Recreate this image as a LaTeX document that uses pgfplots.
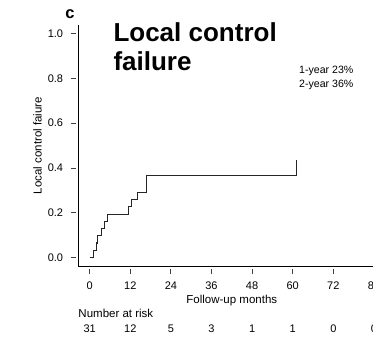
\documentclass[border=0pt]{standalone}
\usepackage{pgfplots}
\pgfplotsset{compat=1.18}
\usepackage{fontspec}
\setmainfont{Liberation Sans}
\newcommand{\fs}[1]{\fontsize{#1bp}{#1bp}\selectfont}
\begin{document}
\begin{tikzpicture}
\begin{axis}[
  at={(0,0)}, anchor=south west,
  scale only axis, width=307bp, height=241.8bp,
  xmin=-3.36, xmax=87.36, ymin=-0.04, ymax=1.04,
  axis lines*=left,
  axis line style={black, line width=1bp},
  clip=false,
  xtick={0,12,24,36,48,60,72,84},
  ytick={0,0.2,0.4,0.6,0.8,1.0},
  yticklabels={0.0,0.2,0.4,0.6,0.8,1.0},
  tick align=outside,
  major tick length=5bp,
  xtick style={black!75, line width=0.8bp, yshift=-2bp},
  ytick style={black!75, line width=0.8bp, xshift=-2bp},
  /pgf/number format/assume math mode=true,
  ticklabel style={font=\fs{11}, inner sep=0pt},
  xticklabel style={anchor=north, yshift=-10bp},
  yticklabel style={anchor=east, xshift=-10bp},
]
\addplot[const plot, black!85, line width=1.1bp] coordinates {
(0,0) (1.1,0.032) (2.1,0.065) (2.4,0.097) (3.6,0.129) (4.3,0.161)
(5.3,0.194) (11.6,0.226) (12.3,0.258) (14.1,0.290) (16.7,0.365)
(61.2,0.365) (61.2,0.436)
};
\foreach \m/\n in {0/31,12/12,24/5,36/3,48/1,60/1,72/0,84/0}{
  \edef\tmp{\noexpand\node[anchor=base, inner sep=0pt, font=\noexpand\fs{11}] at (axis cs:\m,-0.3349) {\n};}
  \tmp
}
\end{axis}
% texts in bp relative to the axis corner (pixel 78.3, 266.5)
\node[anchor=base, inner sep=0pt, font=\fs{11.5}] at (153.5bp,-36.5bp) {Follow-up months};
\node[anchor=base west, inner sep=0pt, font=\fs{11.5}] at (0bp,-50.5bp) {Number at risk};
\node[anchor=base, rotate=90, inner sep=0pt, font=\fs{11.5}] at (-36.8bp,120.9bp) {Local control faiure};
\node[anchor=base, inner sep=0pt, font=\fs{16.5}\bfseries] at (-8.3bp,248.2bp) {c};
\node[anchor=base west, inner sep=0pt, font=\fs{26}\bfseries] at (35bp,224.8bp) {Local control};
\node[anchor=base west, inner sep=0pt, font=\fs{26}\bfseries] at (35bp,195.5bp) {failure};
\node[anchor=base west, inner sep=0pt, font=\fs{10.6}] at (220.7bp,192.5bp) {1-year 23\%};
\node[anchor=base west, inner sep=0pt, font=\fs{10.6}] at (220.7bp,178.8bp) {2-year 36\%};
\pgfresetboundingbox
\useasboundingbox (-78.3bp,-73.5bp) rectangle (294.7bp,266.5bp);
\end{tikzpicture}
\end{document}
